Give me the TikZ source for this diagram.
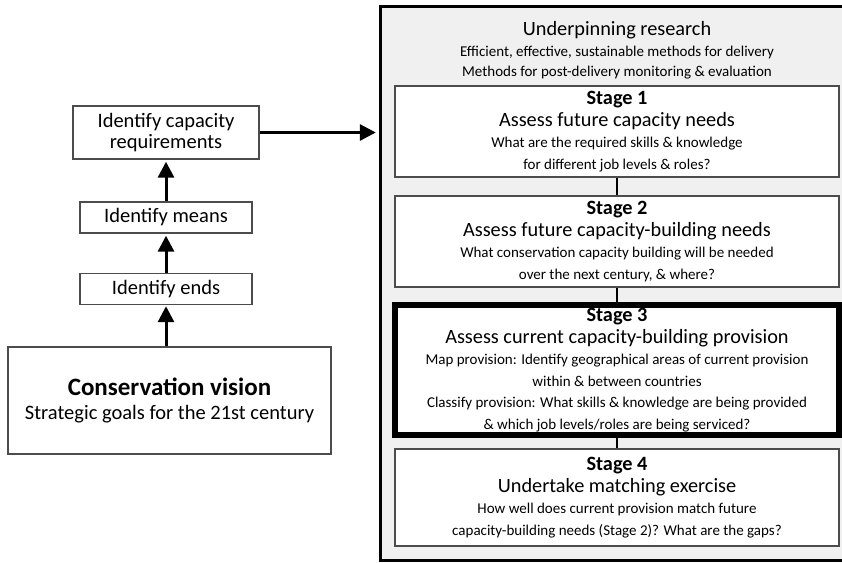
\documentclass[tikz,border=0pt]{standalone}
\usepackage{fontspec}
\setmainfont{Carlito}
\usetikzlibrary{arrows.meta}

\newcommand\hdtxt{\fontsize{20.3}{21.5}\selectfont}
\newcommand\smtxt{\fontsize{15}{21.5}\selectfont}
\newcommand\lftxt{\fontsize{20.5}{21.5}\selectfont}

\tikzset{
  box/.style={draw=black!70, line width=1.4pt, fill=white, align=center, inner sep=0pt},
  stagebox/.style={box, minimum width=444pt, font=\smtxt},
  arr/.style={line width=3pt, -{Triangle[length=16pt,width=16pt]}},
  link/.style={line width=2.5pt}
}

\begin{document}
\begin{tikzpicture}[x=1pt,y=-1pt]
\useasboundingbox (0,0) rectangle (842,562);

\node[fill=black!6, minimum width=461pt, minimum height=553pt, inner sep=0pt] (research) at (611.5,283.5) {};
\draw[line width=3pt] (research.north east) -- (research.north west) -- (research.south west) -- (research.south east);
\node[align=center, font=\smtxt] (under) at (617,50) {\hdtxt Underpinning research\\ Efficient, effective, sustainable methods for delivery\\[-2pt] Methods for post-delivery monitoring \& evaluation};

\node[stagebox, minimum height=91pt] (s1) at (617,131.5) {\hdtxt\bfseries Stage 1\\ \hdtxt Assess future capacity needs\\ What are the required skills \& knowledge\\ for different job levels \& roles?};
\node[stagebox, minimum height=91pt] (s2) at (617,241.5) {\hdtxt\bfseries Stage 2\\ \hdtxt Assess future capacity-building needs\\ What conservation capacity building will be needed\\ over the next century, \& where?};
\node[stagebox, draw=black, line width=6pt, minimum height=130pt] (s3) at (617,370) {\hdtxt\bfseries Stage 3\\ \hdtxt Assess current capacity-building provision\\ Map provision: Identify geographical areas of current provision\\ within \& between countries\\ Classify provision: What skills \& knowledge are being provided\\ \& which job levels/roles are being serviced?};
\node[stagebox, minimum height=97pt] (s4) at (617,497.5) {\hdtxt\bfseries Stage 4\\ \hdtxt Undertake matching exercise\\ How well does current provision match future\\ capacity-building needs (Stage 2)? What are the gaps?};

\draw[link] (s1.south) -- (s2.north);
\draw[link] (s2.south) -- (s3.north);
\draw[link] (s3.south) -- (s4.north);

\node[box, font=\lftxt, minimum width=186pt, minimum height=53pt] (req) at (166,132.5) {Identify capacity\\ requirements};
\node[box, font=\lftxt, minimum width=172pt, minimum height=31pt] (means) at (166,217.5) {Identify means};
\node[box, font=\lftxt, minimum width=172pt, minimum height=31pt] (ends) at (166,289) {Identify ends};
\node[box, font=\lftxt, minimum width=323pt, minimum height=107pt] (vision) at (169.5,400.5) {\fontsize{25}{26}\selectfont\bfseries Conservation vision\\[3pt] Strategic goals for the 21st century};

\draw[arr, shorten >=1pt] (ends |- vision.north) -- (ends.south);
\draw[arr, shorten >=2pt] (ends.north) -- (means.south);
\draw[arr, shorten >=2pt] (means.north) -- (req.south);
\draw[arr, shorten >=5pt] (req.east) -- (req.east -| research.west);
\end{tikzpicture}
\end{document}
